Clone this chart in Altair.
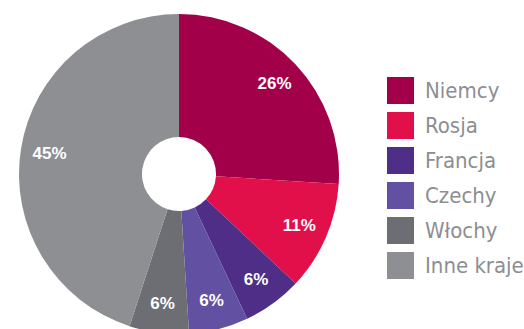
import altair as alt
import pandas as pd

countries = ["Niemcy", "Rosja", "Francja", "Czechy", "Włochy", "Inne kraje"]
shares = [26, 11, 6, 6, 6, 45]
labels = ["26%", "11%", "6%", "6%", "6%", "45%"]
colors = ["#A3004A", "#E1104B", "#4E2E87", "#6250A3", "#6C6E73", "#8E8F93"]

df = pd.DataFrame({"kraj": countries, "udzial": shares, "etykieta": labels,
                   "kolejnosc": list(range(len(countries)))})

CX, CY = 179, 174

base = alt.Chart(df).encode(
    theta=alt.Theta("udzial:Q", stack=True),
    order=alt.Order("kolejnosc:Q"),
    x=alt.value(CX),
    y=alt.value(CY),
)

arcs = base.mark_arc(outerRadius=160, innerRadius=37, stroke=None).encode(
    color=alt.Color(
        "kraj:N",
        scale=alt.Scale(domain=countries, range=colors),
        sort=countries,
        legend=alt.Legend(
            title=None,
            orient="none",
            legendX=387,
            legendY=77,
            symbolType="square",
            symbolSize=729,
            symbolStrokeWidth=0,
            symbolOpacity=1,
            labelFontSize=22,
            labelFont="'DejaVu Sans Condensed', 'Liberation Sans', sans-serif",
            labelColor="#8C8E91",
            labelOffset=11,
            rowPadding=8,
            padding=0,
        ),
    )
)

text = base.mark_text(radius=131, fontSize=17, fontWeight="bold",
                      font="Liberation Sans", color="white").encode(
    text="etykieta:N"
)

chart = (arcs + text).properties(
    width=524, height=329, padding=0, autosize=alt.AutoSizeParams(type="none")
).configure_view(stroke=None)

chart.save("out.html", embed_options={"renderer": "svg", "actions": False})
